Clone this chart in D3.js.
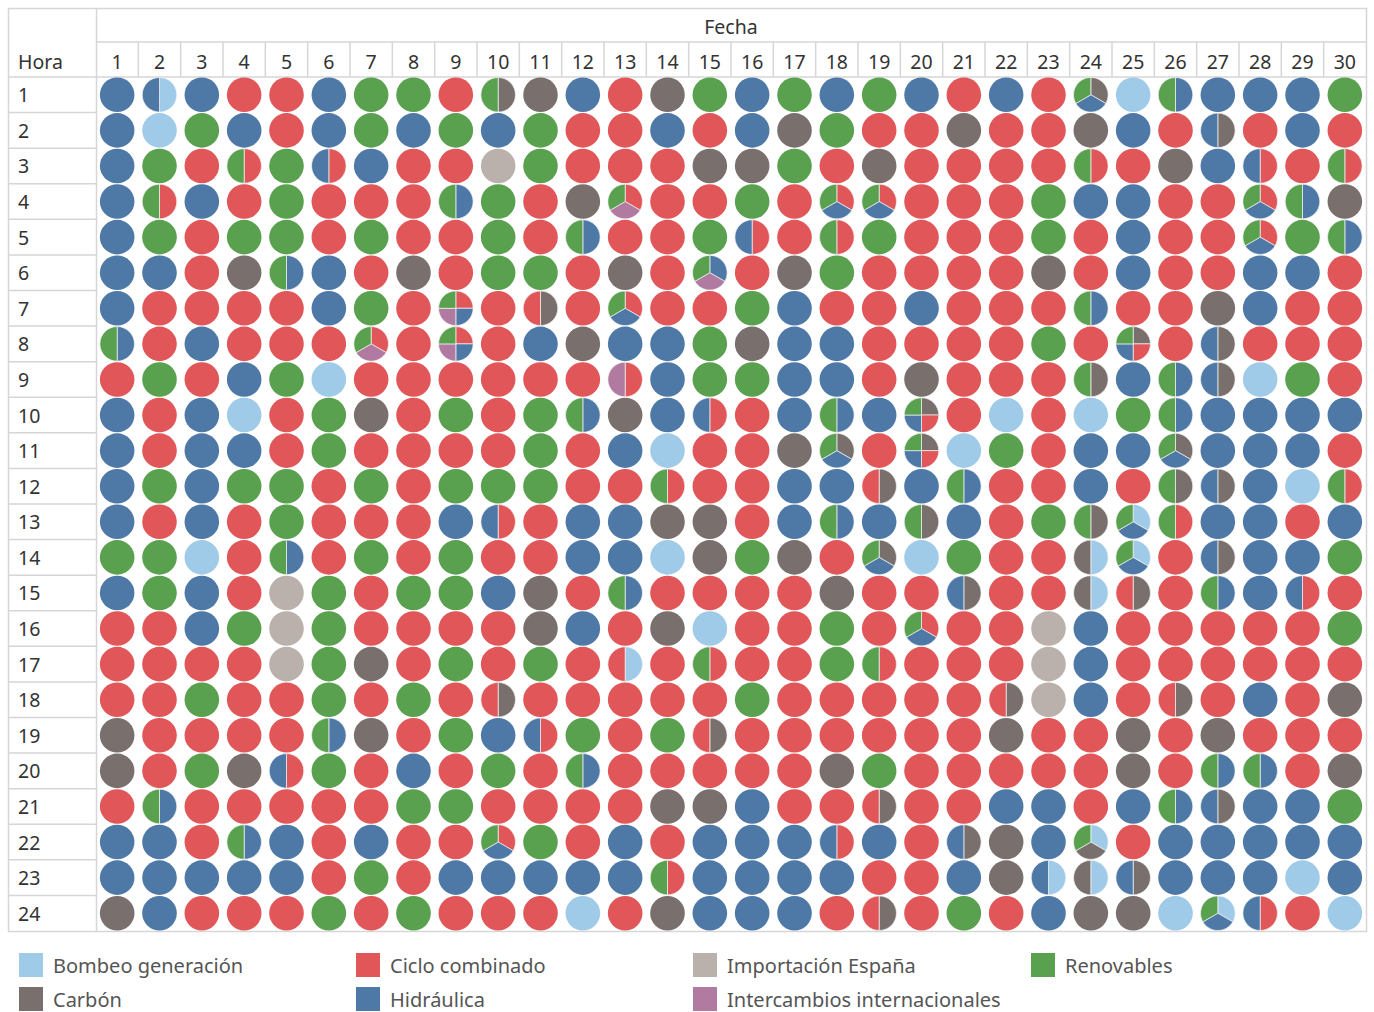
<!DOCTYPE html>
<html>
<head>
<meta charset="utf-8">
<script src="https://cdn.jsdelivr.net/npm/d3@7"></script>
<style>
  body { margin: 0; background: #fff; }
  svg { display: block; font-family: "Noto Sans", sans-serif; }
</style>
</head>
<body>
<svg id="chart" width="1374" height="1012"></svg>
<script>
// ---- Data ----
const techNames = ["Bombeo generación", "Carbón", "Ciclo combinado", "Hidráulica",
                   "Importación España", "Intercambios internacionales", "Renovables"];
const techCodes = ["B", "K", "C", "H", "I", "X", "R"];
const techColors = ["#a0cbe8", "#79706e", "#e15759", "#4e79a7", "#bab0ac", "#b07aa1", "#59a14f"];
const legendOrder = ["Bombeo generación", "Carbón", "Ciclo combinado", "Hidráulica",
                     "Importación España", "Intercambios internacionales", "Renovables"];
const hours = [1,2,3,4,5,6,7,8,9,10,11,12,13,14,15,16,17,18,19,20,21,22,23,24];
const days = [1,2,3,4,5,6,7,8,9,10,11,12,13,14,15,16,17,18,19,20,21,22,23,24,25,26,27,28,29,30];

// Marginal technology per hour (rows) and day (columns); letters = techCodes
const marginalByHour = [
  "H BH H C C H R R C KR K H C K R H R H R H C H C KHR B HR H H H R",
  "H B R H C H R H R H R C C H C H K R C C K C C K H C KH C H C",
  "H R C CR R CH H C C I R C C C K K R C K C C C C CR C K H CH C CR",
  "H CR H C R C C C HR R C K CXR C C R C CHR CHR C C C R H H C C CHR HR K",
  "H R C R R C R C C R C HR C C R CH C CR R C C C R C H C C CHR R HR",
  "H H C K HR H C K C R R C K C HXR C K R C C C C K C H C C H H C",
  "H C C C C H R C CHXR C KC C CHR C C R H C C H C C C HR C C K H C C",
  "HR C H C C C CXR C CHXR C H K H H R K H H C C C C R C KCHR C KH C C C",
  "C R C H R B C C C C C C CX H R R H H C K C C C KR H HR KH B R C",
  "H C H B C R K C R C R HR K H CH C H HR H KCHR C B C B R HR H H H H",
  "H C H H C R C C C C R C H B C C K KHR C KCHR B R C H H KHR H H H C",
  "H R H R R C R C R R R C C CR C C H H KC H HR C C H C KR KH H B CR",
  "H C H C R C C C H CH C H H K K C H HR H KR H C R KR BHR CR H H C H",
  "R R B C HR C R C R C C H H B K R K C KHR B R C C BK BHR C KH H H R",
  "H R H C I R C R R H K C HR C C C C K C C KH C C BK KC C HR H CH C",
  "C C H R I R C C C C K H C K B C C R C CHR C C I H C C C C C R",
  "C C C C I R K C R C R C BC C CR C C R CR C C C I H C C C C C C",
  "C C R C C R C R C KC C C C C C R C C C C C KC I H C KC C H C K",
  "K C C C C HR K C R H CH R C R KC C C C C C C K C C K C K C C C",
  "K C R K CH R C H C R C HR C C C C C K R C C C C C K C HR HR C K",
  "C HR C C C C C R R C C C C K K H C C KC C C H H C H HR KH H H R",
  "H H C HR H C H C C CHR R C H C H H H CH H C KH K H BKR C H H H H H",
  "H H H H H C R C H H H H H CR H H H H C C H K BH BK KH H H H B H",
  "K H C C C R C R C C C B C K H H H C KC C R C H K K B BHR CH C B"
];

// ---- Layout ----
const svg = d3.select("#chart");
const frameLeft = 8, frameRight = 1366, frameTop = 8, headerMid = 42, gridTop = 77, gridBottom = 931, rowHeadRight = 96;
const lineColor = "#d6d6d6";
const textColor = "#333333";

const x = d3.scaleBand().domain(days).range([rowHeadRight, frameRight]);
const y = d3.scaleBand().domain(hours).range([gridTop, gridBottom]);
const color = d3.scaleOrdinal().domain(techCodes).range(techColors);
const nameColor = d3.scaleOrdinal().domain(techNames).range(techColors);

const g = svg.append("g");

// Outer frame & header lines
g.append("rect").attr("x", frameLeft + 0.5).attr("y", frameTop + 0.5)
  .attr("width", frameRight - frameLeft).attr("height", gridBottom - frameTop)
  .attr("fill", "none").attr("stroke", lineColor).attr("stroke-width", 1.5);
g.append("line").attr("x1", rowHeadRight + 0.5).attr("x2", rowHeadRight + 0.5)
  .attr("y1", frameTop).attr("y2", gridBottom).attr("stroke", lineColor).attr("stroke-width", 1.5);
g.append("line").attr("x1", rowHeadRight).attr("x2", frameRight)
  .attr("y1", headerMid).attr("y2", headerMid).attr("stroke", lineColor).attr("stroke-width", 1.5);
g.append("line").attr("x1", frameLeft).attr("x2", frameRight)
  .attr("y1", gridTop).attr("y2", gridTop).attr("stroke", lineColor).attr("stroke-width", 1.5);

// Column header separators
g.selectAll("line.colsep").data(days.slice(1)).join("line").attr("class", "colsep")
  .attr("x1", d => x(d)).attr("x2", d => x(d))
  .attr("y1", headerMid).attr("y2", gridTop)
  .attr("stroke", lineColor).attr("stroke-width", 1.5);

// Row header separators
g.selectAll("line.rowsep").data(hours.slice(1)).join("line").attr("class", "rowsep")
  .attr("x1", frameLeft).attr("x2", rowHeadRight)
  .attr("y1", d => y(d)).attr("y2", d => y(d))
  .attr("stroke", lineColor).attr("stroke-width", 1.5);

// Header texts
g.append("text").attr("x", (rowHeadRight + frameRight) / 2).attr("y", 26)
  .attr("text-anchor", "middle").attr("dominant-baseline", "central")
  .attr("font-size", 19.5).attr("fill", textColor).text("Fecha");
g.append("text").attr("x", 18).attr("y", 61)
  .attr("dominant-baseline", "central")
  .attr("font-size", 19.5).attr("fill", textColor).text("Hora");

g.selectAll("text.day").data(days).join("text").attr("class", "day")
  .attr("x", d => x(d) + x.bandwidth() / 2).attr("y", 61)
  .attr("text-anchor", "middle").attr("dominant-baseline", "central")
  .attr("font-size", 19.5).attr("fill", textColor).text(d => d);

g.selectAll("text.hour").data(hours).join("text").attr("class", "hour")
  .attr("x", 18).attr("y", d => y(d) + y.bandwidth() / 2)
  .attr("dominant-baseline", "central")
  .attr("font-size", 19.5).attr("fill", textColor).text(d => d);

// Pies
const radius = 17.3;
const pie = d3.pie().sort(null).value(1);
const arc = d3.arc().innerRadius(0).outerRadius(radius);

const cells = [];
marginalByHour.forEach((row, i) => {
  row.split(" ").forEach((code, j) => {
    const parts = techCodes.filter(c => code.includes(c));
    cells.push({ hour: hours[i], day: days[j], parts });
  });
});

const cellG = g.selectAll("g.cell").data(cells).join("g").attr("class", "cell")
  .attr("transform", d => `translate(${x(d.day) + x.bandwidth() / 2},${y(d.hour) + y.bandwidth() / 2})`);

cellG.each(function (d) {
  const sel = d3.select(this);
  if (d.parts.length === 1) {
    sel.append("circle").attr("r", radius).attr("fill", color(d.parts[0]));
  } else {
    sel.selectAll("path").data(pie(d.parts)).join("path")
      .attr("d", arc).attr("fill", p => color(p.data))
      .attr("stroke", "#f4f4f4").attr("stroke-width", 0.7);
  }
});

// Legend (column-major, two rows)
const legendX = [19, 356, 693, 1031];
const legendY = [965, 999];
const lg = svg.append("g");
legendOrder.forEach((name, k) => {
  const col = Math.floor(k / 2), row = k % 2;
  const item = lg.append("g").attr("transform", `translate(${legendX[col]},${legendY[row]})`);
  item.append("rect").attr("x", 0).attr("y", -12).attr("width", 24).attr("height", 24)
    .attr("fill", nameColor(name));
  item.append("text").attr("x", 34).attr("y", 0).attr("dominant-baseline", "central")
    .attr("font-size", 20).attr("fill", "#555").text(name);
});
</script>
</body>
</html>
